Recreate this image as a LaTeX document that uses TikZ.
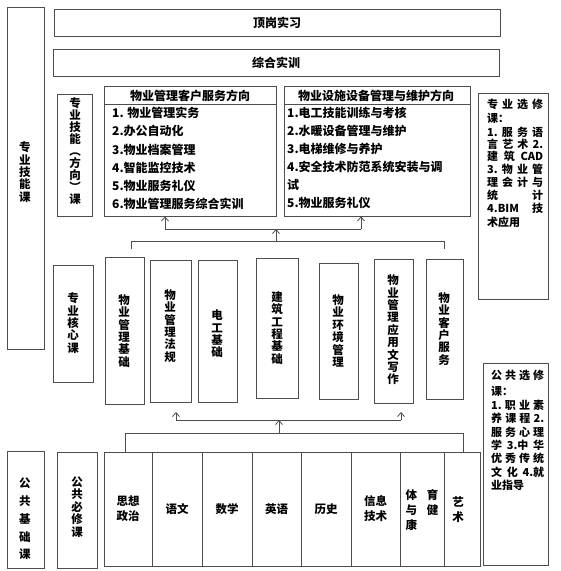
\documentclass[tikz,border=0pt]{standalone}
\usepackage{fontspec}
\newfontfamily\cjk{Noto Sans CJK SC}
\usetikzlibrary{fit,arrows.meta}
\definecolor{linec}{HTML}{4D4D4D}
\begin{document}
\begin{tikzpicture}[x=1pt,y=-1pt,
  bx/.style={draw=linec, line width=0.8pt, inner sep=0pt},
  cn/.style={draw=linec, line width=0.8pt},
  ar/.style={cn, -{Straight Barb[length=4pt,width=7pt]}},
  vt/.style={font=\cjk\bfseries\fontsize{11.5}{12.4}\selectfont, align=center, inner sep=0pt},
  tx/.style={font=\cjk\bfseries\fontsize{12}{14}\selectfont, inner sep=0pt},
  tb/.style={font=\cjk\bfseries\fontsize{11.5}{15}\selectfont, align=center, inner sep=0pt},
  el/.style={font=\cjk\bfseries\fontsize{11}{13}\selectfont, inner sep=0pt, anchor=west},
]
\useasboundingbox (0,0) rectangle (561,571);

% left category boxes
\node[bx, fit={(7,7)(44,349)}] (zyjn) {};
\node[vt] (zyjnT) at (25,172) {专\\业\\技\\能\\课};
\node[bx, fit={(7,451)(44,568)}] (ggjc) {};
\node[vt, font=\cjk\bfseries\fontsize{11.5}{17.8}\selectfont] (ggjcT) at (25,519) {公\\共\\基\\础\\课};

% top boxes
\node[bx, fit={(54,9)(500,36)}, label={[tx, name=dgsxT]center:顶岗实习}] (dgsx) {};
\node[bx, fit={(53,49)(499,76)}, label={[tx, name=zhsxT]center:综合实训}] (zhsx) {};

% direction row
\node[bx, fit={(57,94)(92,216)}] (jnfx) {};
\node[vt, font=\cjk\bfseries\fontsize{11.5}{11.9}\selectfont] (jnfxT) at (75,151) {专\\业\\技\\能\\︵\\方\\向\\︶\\课};

\node[bx, fit={(104,86)(276,216)}] (ldir) {};
\draw[cn] ([yshift=-19pt]ldir.north west) -- ([yshift=-19pt]ldir.north east);
\node[tx] (ldirH) at (190,96) {物业管理客户服务方向};
\foreach \t [count=\i] in {1. 物业管理实务, 2.办公自动化, 3.物业档案管理, 4.智能监控技术, 5.物业服务礼仪, 6.物业管理服务综合实训}
  \node[tx, anchor=west] (li\i) at (112, 95+18.2*\i) {\t};

\node[bx, fit={(284,86)(470,216)}] (rdir) {};
\draw[cn] ([yshift=-19pt]rdir.north west) -- ([yshift=-19pt]rdir.north east);
\node[tx] (rdirH) at (376,96) {物业设施设备管理与维护方向};
\foreach \t [count=\i] in {1.电工技能训练与考核, 2.水暖设备管理与维护, 3.电梯维修与养护, 4.安全技术防范系统安装与调, 试, 5.物业服务礼仪}
  \node[tx, anchor=west] (ri\i) at (287, 95+18*\i) {\t};

% elective (professional)
\node[bx, fit={(478,93)(548,299)}] (zyxx) {};
\node[el] (zx1) at (487,104) {\makebox[56pt]{专\hfill 业\hfill 选\hfill 修}};
\node[el] (zx2) at (487,118) {课：};
\node[el] (zx3) at (487,132) {\makebox[56pt]{1.\hfill 服\hfill 务\hfill 语}};
\node[el] (zx4) at (487,144) {\makebox[56pt]{言\hfill 艺\hfill 术\hfill 2.}};
\node[el] (zx5) at (487,156) {\makebox[56pt]{建\hfill 筑\hfill CAD}};
\node[el] (zx6) at (487,169) {\makebox[56pt]{3.\hfill 物\hfill 业\hfill 管}};
\node[el] (zx7) at (487,182) {\makebox[56pt]{理\hfill 会\hfill 计\hfill 与}};
\node[el] (zx8) at (487,195) {\makebox[56pt]{统\hfill 计}};
\node[el] (zx9) at (487,208) {\makebox[56pt]{4.BIM\hfill 技}};
\node[el] (zx10) at (487,222) {术应用};

% core row
\node[bx, fit={(53,265)(93,382)}] (hxk) {};
\node[vt] (hxkT) at (73,323) {专\\业\\核\\心\\课};
\node[bx, fit={(105,257)(144,404)}] (c1) {};
\node[vt] (c1T) at (124,331) {物\\业\\管\\理\\基\\础};
\node[bx, fit={(150,260)(191,402)}] (c2) {};
\node[vt] (c2T) at (170,326) {物\\业\\管\\理\\法\\规};
\node[bx, fit={(198,260)(237,402)}] (c3) {};
\node[vt] (c3T) at (217,334) {电\\工\\基\\础};
\node[bx, fit={(256,258)(298,398)}] (c4) {};
\node[vt] (c4T) at (277,328) {建\\筑\\工\\程\\基\\础};
\node[bx, fit={(319,263)(358,399)}] (c5) {};
\node[vt] (c5T) at (338,331) {物\\业\\环\\境\\管\\理};
\node[bx, fit={(374,259)(413,403)}] (c6) {};
\node[vt] (c6T) at (393,330) {物\\业\\管\\理\\应\\用\\文\\写\\作};
\node[bx, fit={(426,259)(463,399)}] (c7) {};
\node[vt] (c7T) at (444,329) {物\\业\\客\\户\\服\\务};

% public elective
\node[bx, fit={(483,363)(548,565)}] (ggxx) {};
\node[el] (gx1) at (491,375) {\makebox[53pt]{公\hfill 共\hfill 选\hfill 修}};
\node[el] (gx2) at (491,391) {课：};
\node[el] (gx3) at (491,405) {\makebox[53pt]{1.\hfill 职\hfill 业\hfill 素}};
\node[el] (gx4) at (491,418) {\makebox[53pt]{养\hfill 课\hfill 程\hfill 2.}};
\node[el] (gx5) at (491,432) {\makebox[53pt]{服\hfill 务\hfill 心\hfill 理}};
\node[el] (gx6) at (491,445) {\makebox[53pt]{学\hfill 3.中\hfill 华}};
\node[el] (gx7) at (491,458) {\makebox[53pt]{优\hfill 秀\hfill 传\hfill 统}};
\node[el] (gx8) at (491,472) {\makebox[53pt]{文\hfill 化\hfill 4.就}};
\node[el] (gx9) at (491,485) {业指导};

% public required
\node[bx, fit={(57,452)(97,568)}] (ggbx) {};
\node[vt] (ggbxT) at (77,507) {公\\共\\必\\修\\课};

\node[bx, fit={(104,452)(480,566)}] (tbl) {};
\node[bx, fit={(104,452)(152,566)}, label={[tb, name=t1]center:思想\\政治}] (k1) {};
\node[bx, fit={(152,452)(202,566)}, label={[tb, name=t2]center:语文}] (k2) {};
\node[bx, fit={(202,452)(252,566)}, label={[tb, name=t3]center:数学}] (k3) {};
\node[bx, fit={(252,452)(301,566)}, label={[tb, name=t4]center:英语}] (k4) {};
\node[bx, fit={(301,452)(351,566)}, label={[tb, name=t5]center:历史}] (k5) {};
\node[bx, fit={(351,452)(400,566)}, label={[tb, name=t6]center:信息\\技术}] (k6) {};
\node[bx, fit={(400,452)(444,566)}] (k7) {};
\node[tb, align=left] (t7) at (422,510) {体\hspace{10pt}育\\与\hspace{10pt}健\\康};
\node[bx, fit={(444,452)(480,566)}] (k8) {};
\node[tb] (t8) at (458,510) {艺\\术};

% upper connectors
\coordinate (ua1) at (165,229);
\coordinate (ua2) at (361,229);
\coordinate (um) at (276,229);
\coordinate (ub) at (276,241);
\coordinate (ubl) at (131,241);
\coordinate (ubr) at (444,241);
\coordinate (ubl2) at (131,249);
\coordinate (ubr2) at (444,249);
\draw[ar] (ua1) -- (ua1 |- ldir.south);
\draw[ar] (ua2) -- (ua2 |- rdir.south);
\draw[cn] (ua1) -- (ua2);
\draw[ar] (ub) -- (um);
\draw[cn] (ubl2) -- (ubl) -- (ubr) -- (ubr2);

% lower connectors
\coordinate (la1) at (176,420);
\coordinate (la2) at (401,420);
\coordinate (lt1) at (176,412);
\coordinate (lt2) at (401,412);
\coordinate (lm) at (279,420);
\coordinate (lb) at (279,433);
\coordinate (lbl) at (125,433);
\coordinate (lbr) at (463,433);
\draw[ar] (la1) -- (lt1);
\draw[ar] (la2) -- (lt2);
\draw[cn] (la1) -- (la2);
\draw[ar] (lb) -- (lm);
\draw[cn] (tbl.north -| lbl) -- (lbl) -- (lbr) -- (tbl.north -| lbr);
\end{tikzpicture}
\end{document}
